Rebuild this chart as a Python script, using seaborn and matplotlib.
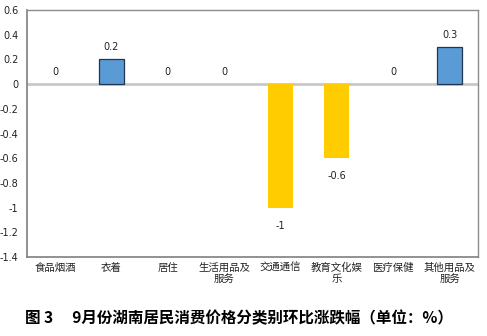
import matplotlib
matplotlib.use("Agg")
import matplotlib.pyplot as plt
import seaborn as sns
import pandas as pd

categories = ["食品烟酒", "衣着", "居住", "生活用品及\n服务", "交通通信",
              "教育文化娱\n乐", "医疗保健", "其他用品及\n服务"]
values = [0, 0.2, 0, 0, -1, -0.6, 0, 0.3]
yticks = [0.6, 0.4, 0.2, 0, -0.2, -0.4, -0.6, -0.8, -1, -1.2, -1.4]
title = "图 3　 9月份湖南居民消费价格分类别环比涨跌幅（单位：%）"

sns.set_style("white")
plt.rcParams["font.family"] = ["Noto Sans CJK SC", "DejaVu Sans"]

blue, yellow = "#5B9BD5", "#FFCC00"
colors = [blue if v >= 0 else yellow for v in values]
df = pd.DataFrame({"cat": categories, "val": values})

fig = plt.figure(figsize=(4.87, 3.36), dpi=100)
ax = fig.add_axes([0.055, 0.235, 0.926, 0.735])

sns.barplot(data=df, x="cat", y="val", hue="cat", palette=colors,
            legend=False, width=0.44, ax=ax, saturation=1)

for patch, v in zip(ax.patches, values):
    if v > 0:
        patch.set_edgecolor("#1F3550")
        patch.set_linewidth(0.9)
    else:
        patch.set_linewidth(0)

for i, v in enumerate(values):
    txt = f"{v:g}"
    offset = -13 if v < 0 else 9
    ax.annotate(txt, (i, v), xytext=(0, offset), textcoords="offset points",
                ha="center", va="center", fontsize=7, color="#222222",
                family="DejaVu Sans")

ax.axhline(0, color="#C8C8C8", lw=2, zorder=0.5)
ax.set_ylim(-1.4, 0.6)
ax.set_xlim(-0.5, len(categories) - 0.5)
ax.set_yticks(yticks)
ax.set_yticklabels([f"{t:g}" for t in yticks], fontsize=7, family="DejaVu Sans",
                   color="#222222")
ax.tick_params(axis="x", labelsize=7.5, length=0, pad=4, colors="#222222")
ax.tick_params(axis="y", length=0, pad=6)
ax.set_xlabel("")
ax.set_ylabel("")

for side in ["left", "bottom"]:
    ax.spines[side].set_color("#7F7F7F")
    ax.spines[side].set_linewidth(1.2)
for side in ["top", "right"]:
    ax.spines[side].set_color("#8C8C8C")
    ax.spines[side].set_linewidth(1.0)

fig.text(0.052, 0.053, title, fontsize=11.2, fontweight="bold", ha="left",
         va="center", color="black")

fig.savefig("out.png", dpi=100)
